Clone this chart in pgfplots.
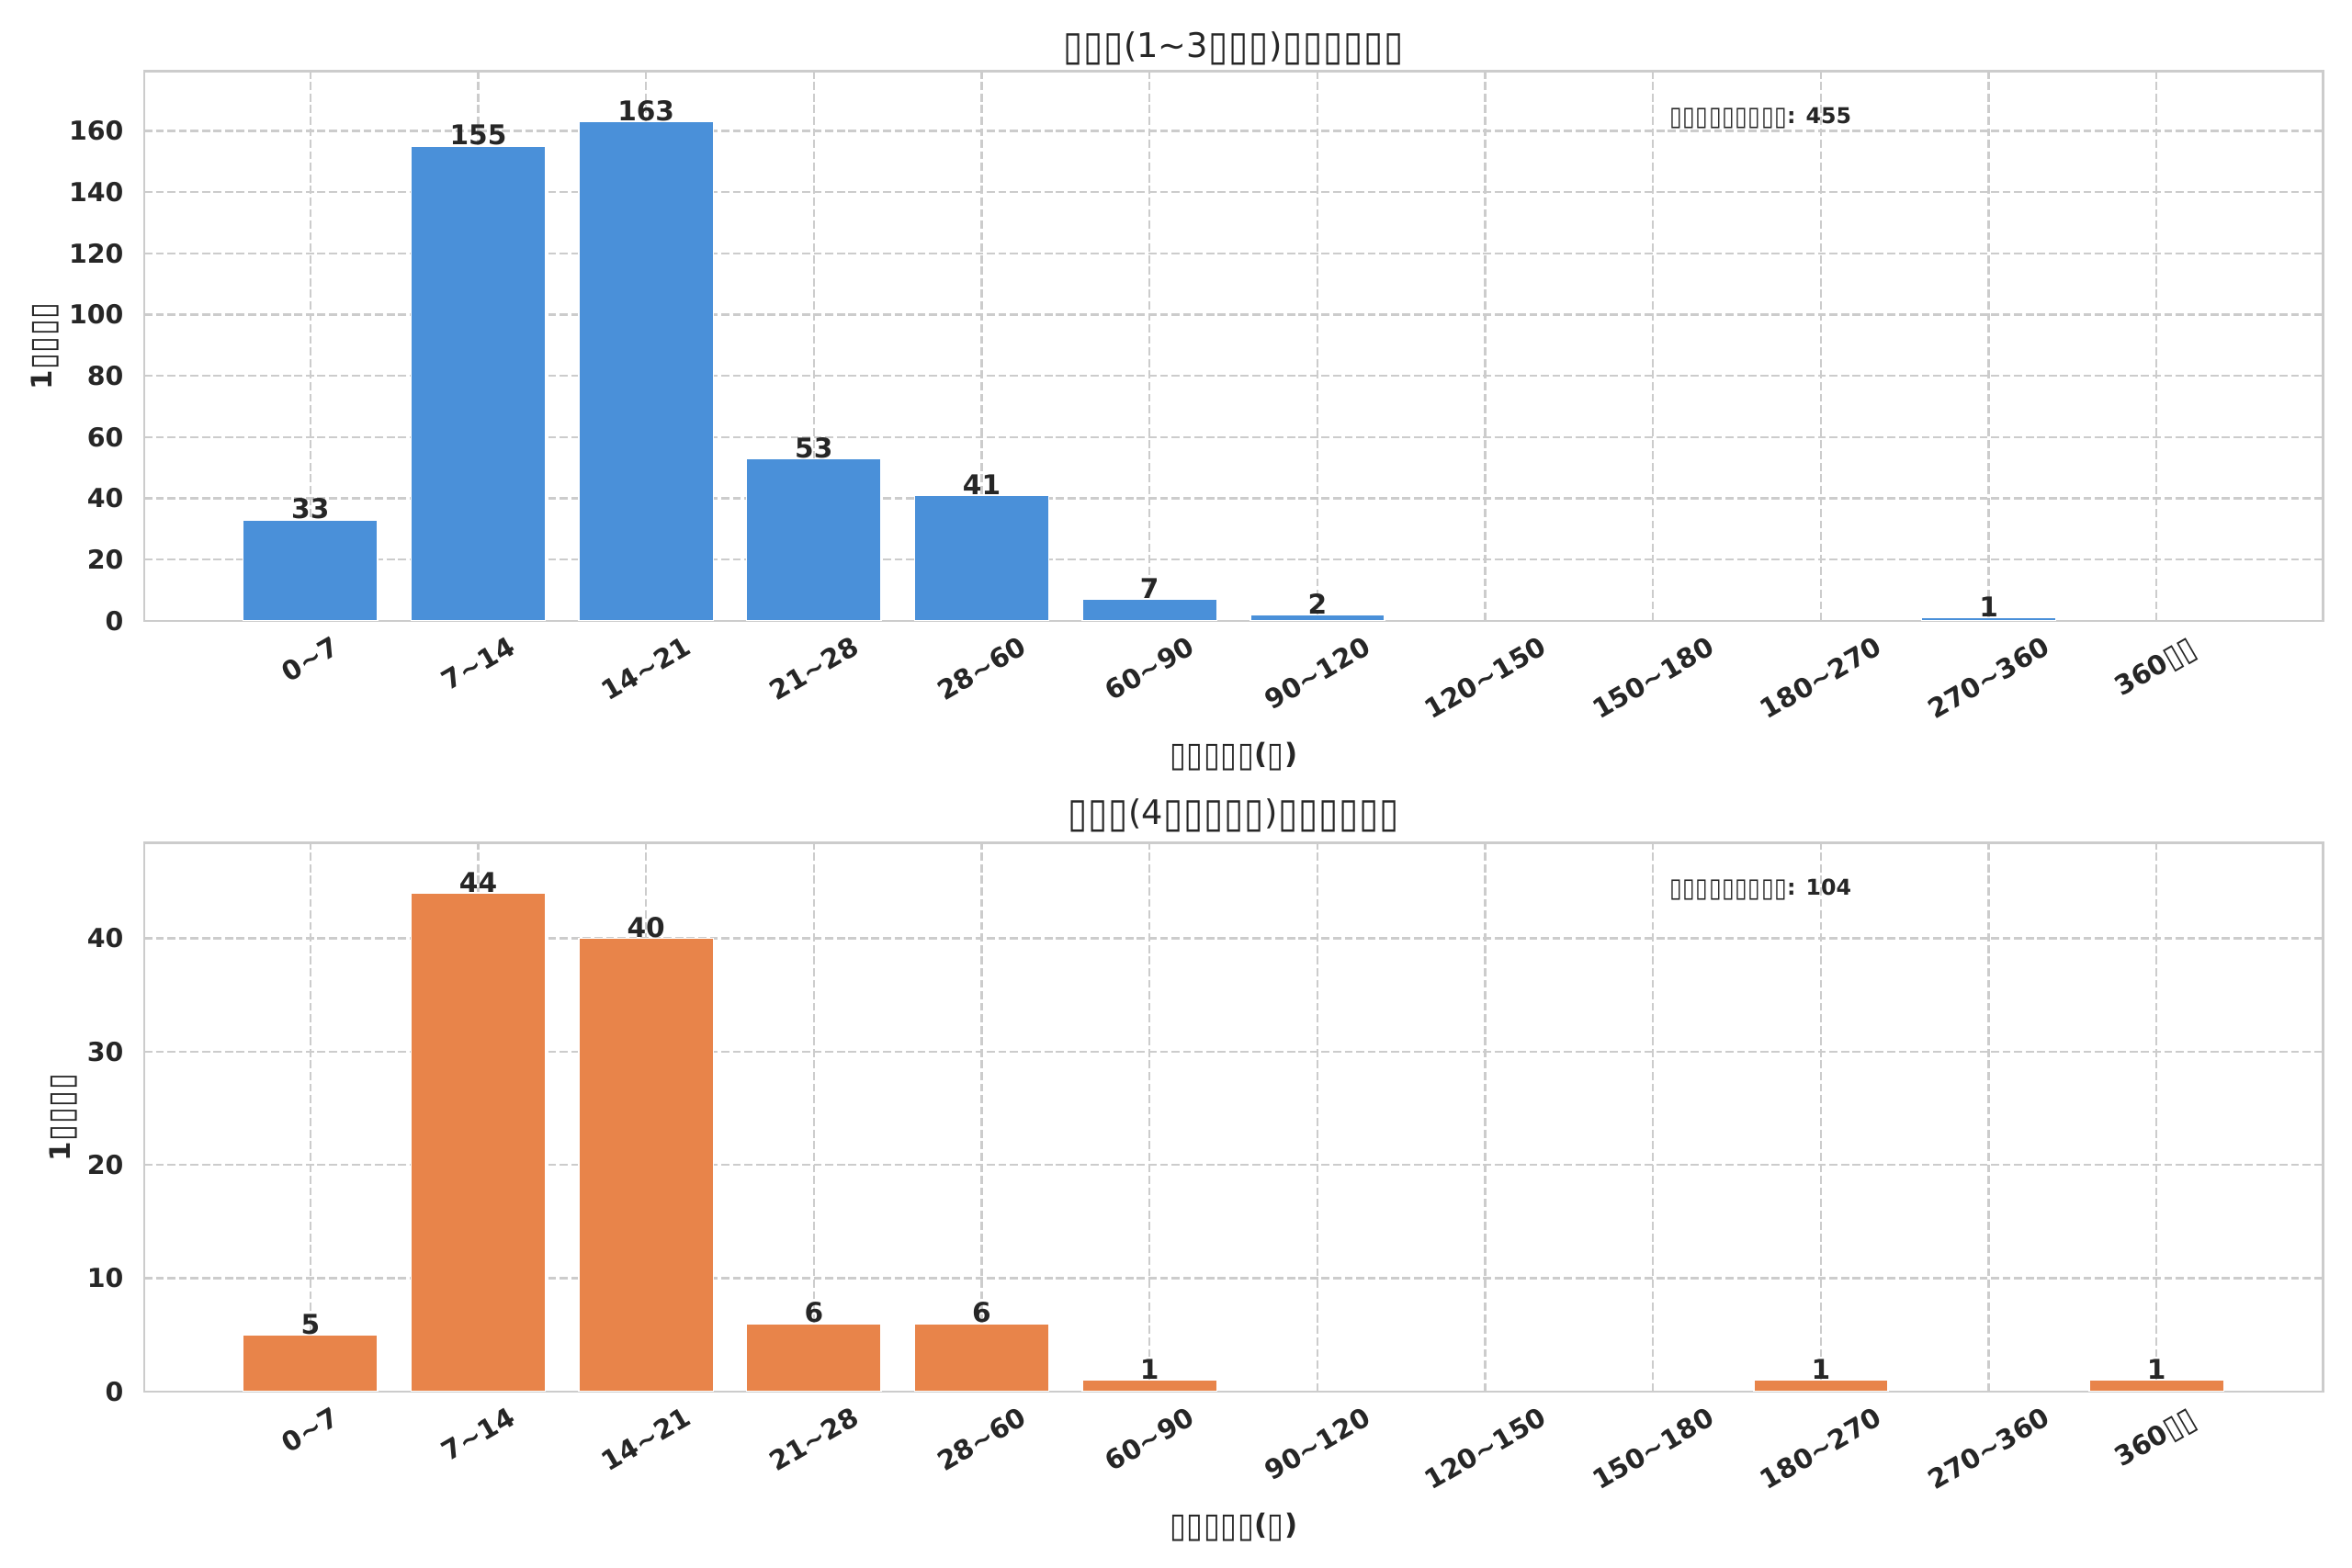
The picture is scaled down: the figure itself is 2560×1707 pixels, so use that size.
\documentclass[border=0pt]{standalone}
\usepackage{fontspec}
\setmainfont{DejaVu Sans}
\usepackage{graphicx}
\usepackage{pgfplots}
\usepackage{pgfplotstable}
\pgfplotsset{compat=1.18}
\definecolor{txt}{HTML}{262626}
\definecolor{grd}{HTML}{CCCCCC}
\definecolor{bblue}{HTML}{4A90D9}
\definecolor{borange}{HTML}{E8844A}
\newcommand\B{{\mdseries\makebox[0.6em]{\raisebox{-0.08em}{\scalebox{1.05}[1.22]{▯}}}}}
\newcommand\tl{\char"7E\relax}
\newcommand\R[1]{\rotatebox{30}{#1}}

\pgfplotstableread{
x y
0 33
1 155
2 163
3 53
4 41
5 7
6 2
10 1
}\tableA
\pgfplotstableread{
x y
0 5
1 44
2 40
3 6
4 6
5 1
9 1
11 1
}\tableB

\pgfplotsset{mystyle/.style={
  scale only axis, width=1000.3pt, height=252.3pt, anchor=south west,
  xmin=-0.99, xmax=11.99, ymin=0,
  xtick={0,...,11},
  xticklabels={\R{0\tl 7},\R{7\tl 14},\R{14\tl 21},\R{21\tl 28},\R{28\tl 60},\R{60\tl 90},\R{90\tl 120},\R{120\tl 150},\R{150\tl 180},\R{180\tl 270},\R{270\tl 360},\R{360\B\B}},
  xticklabel style={anchor=north, inner sep=0pt, yshift=-6.5pt, font=\bfseries\fontsize{12.3}{14}\selectfont, text=txt},
  yticklabel style={anchor=east, inner sep=0pt, xshift=-9.3pt, font=\bfseries\fontsize{12}{14}\selectfont, text=txt},
  /pgf/number format/assume math mode=true,
  xmajorgrids, ymajorgrids,
  major grid style={grd, dash pattern=on 3.7pt off 1.6pt, line width=1pt},
  axis line style={grd, line width=1.25pt},
  major tick length=0pt, tick style={draw=none},
  ybar, bar width=0.8,
  nodes near coords,
  nodes near coords style={font=\bfseries\fontsize{12.5}{14}\selectfont, anchor=south, inner sep=0pt, text=txt},
  title style={at={(0.5,1)}, anchor=base, inner sep=0pt, font=\fontsize{15.5}{18}\selectfont, text=txt},
  xlabel style={at={(axis description cs:0.5,0)}, anchor=base, yshift=-65.7pt, inner sep=0pt, font=\bfseries\fontsize{13}{15}\selectfont, text=txt},
  ylabel style={at={(axis description cs:0,0.5)}, anchor=center, inner sep=0pt, font=\bfseries\fontsize{13}{15}\selectfont, text=txt},
}}

\begin{document}
\begin{tikzpicture}[x=0.421875pt,y=0.421875pt]
\useasboundingbox (0,0) rectangle (2560,1707);
\begin{axis}[mystyle, at={(66.23pt,434.95pt)},
  ymax=179.3, ytick={0,20,...,160},
  title={\B\B\B(1\tl 3\B\B\B)\B\B\B\B\B\B},
  title style={yshift=0.6pt},
  xlabel={\B\B\B\B\B(\B)},
  ylabel={1\B\B\B\B},
  ylabel style={yshift=45.5pt},
]
\addplot[fill=bblue, draw=white, line width=0.6pt] table[x=x,y=y] {\tableA};
\node[anchor=west, inner sep=0pt, font=\bfseries\fontsize{10}{12}\selectfont, text=txt] at (rel axis cs:0.7,0.915) {\B\B\B\B\B\B\B\B\B: 455};
\end{axis}
\begin{axis}[mystyle, at={(66.23pt,81.0pt)}, height=251.9pt,
  ymax=48.4, ytick={0,10,...,40},
  title={\B\B\B(4\B\B\B\B\B)\B\B\B\B\B\B},
  title style={yshift=2.5pt},
  xlabel={\B\B\B\B\B(\B)},
  ylabel={1\B\B\B\B},
  ylabel style={yshift=37.1pt},
]
\addplot[fill=borange, draw=white, line width=0.6pt] table[x=x,y=y] {\tableB};
\node[anchor=west, inner sep=0pt, font=\bfseries\fontsize{10}{12}\selectfont, text=txt] at (rel axis cs:0.7,0.916) {\B\B\B\B\B\B\B\B\B: 104};
\end{axis}
\end{tikzpicture}
\end{document}
